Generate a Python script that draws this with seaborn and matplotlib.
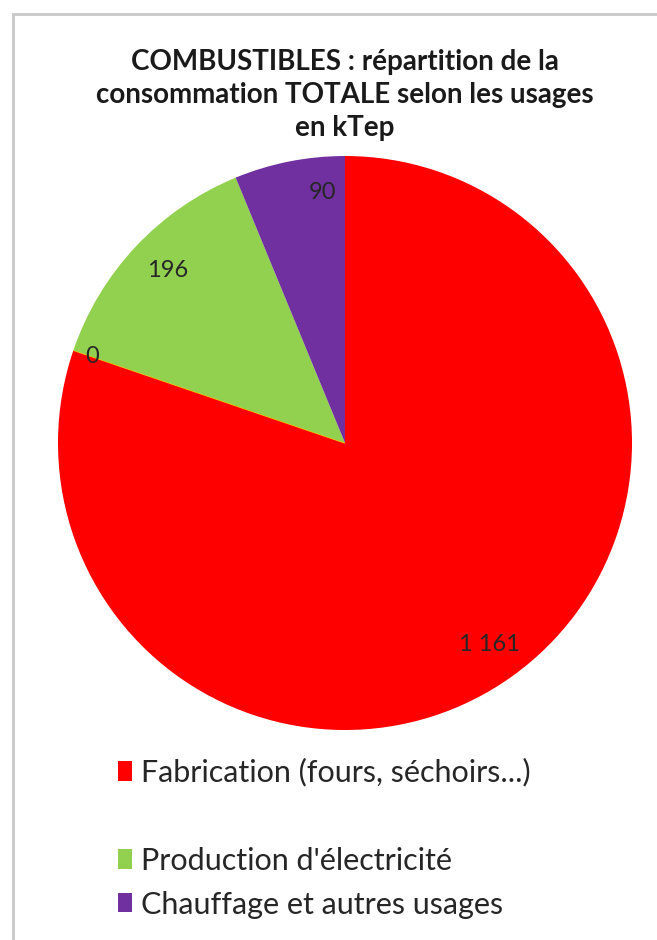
import matplotlib
matplotlib.use("Agg")
import matplotlib.pyplot as plt
from matplotlib.patches import Rectangle
import numpy as np
import seaborn as sns

# Consumption of fuels by use, in kTep
usages = ["Fabrication (fours, séchoirs...)", "", "Production d'électricité", "Chauffage et autres usages"]
valeurs = [1161, 0, 196, 90]
etiquettes = ["1 161", "0", "196", "90"]
couleurs = ["#FF0000", "#FFC000", "#92D050", "#7030A0"]

sns.set_theme(style="white")
plt.rcParams["font.family"] = ["Lato", "DejaVu Sans"]

W, H = 657, 940
fig = plt.figure(figsize=(W / 100, H / 100), dpi=100)
fig.patch.set_facecolor("white")

# chart frame
fig.patches.append(Rectangle((13 / W, -0.05), 1.2, 1 - 14 / H + 0.05,
                             transform=fig.transFigure, fill=False,
                             edgecolor="#c8c8c8", linewidth=2))

fig.text(345 / W, 1 - 95 / H,
         "COMBUSTIBLES : répartition de la\nconsommation TOTALE selon les usages\nen kTep",
         ha="center", va="center", fontsize=20, fontweight="bold",
         color="#1a1a1a", linespacing=1.33)

cx, cy, r = 345, 443, 287
ax = fig.add_axes([(cx - r) / W, (H - cy - r) / H, 2 * r / W, 2 * r / H])
palette = sns.color_palette(couleurs)
wedges, _ = ax.pie(valeurs, colors=palette, startangle=90, counterclock=False,
                   radius=1, wedgeprops=dict(linewidth=0))
wedges[1].set_edgecolor("#FFC000")
wedges[1].set_linewidth(1.0)
ax.set_xlim(-1, 1)
ax.set_ylim(-1, 1)
ax.set_aspect("equal")
ax.axis("off")

# value labels placed along each wedge's bisector
dist = [0.865, 0.93, 0.86, 0.875]
shift = [0.0, 0.0, -1.0, -6.0]
for w, lab, d, s in zip(wedges, etiquettes, dist, shift):
    ang = np.deg2rad((w.theta1 + w.theta2) / 2 + s)
    ax.text(d * np.cos(ang), d * np.sin(ang), lab, ha="center", va="center",
            fontsize=17, color="#262626")

handles = list(wedges)
leg = fig.legend(handles, usages, loc="upper left",
                 bbox_to_anchor=(106 / W, 1 - 746 / H), frameon=False,
                 fontsize=22, handlelength=0.45, handleheight=0.6,
                 handletextpad=0.3, labelspacing=0.52, borderaxespad=0)
leg.legend_handles[1].set_visible(False)
for t in leg.get_texts():
    t.set_color("#262626")

fig.savefig("out.png", dpi=100, facecolor="white")
